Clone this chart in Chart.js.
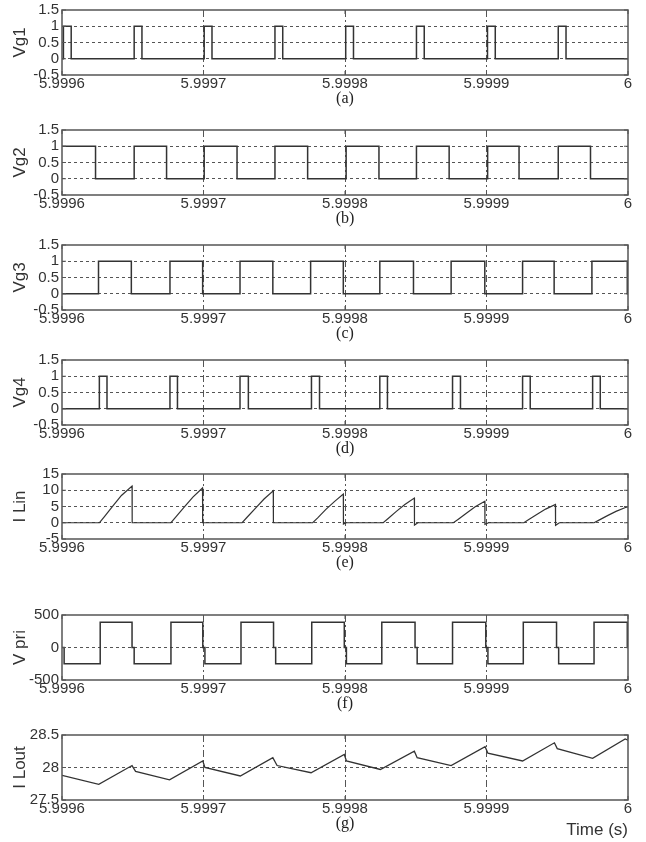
<!DOCTYPE html>
<html>
<head>
<meta charset="utf-8">
<script src="https://cdn.jsdelivr.net/npm/chart.js@4.4.1/dist/chart.umd.min.js"></script>
<style>
  html, body { margin: 0; padding: 0; background: #fff; }
  body { width: 646px; height: 842px; position: relative; overflow: hidden; }
  canvas { position: absolute; left: 0; }
  #timeLabel { position: absolute; right: 18px; top: 820px; font: 17px "Liberation Sans", Arial, sans-serif; color: #333; }
</style>
</head>
<body>
<canvas id="pa" width="646" height="111"></canvas>
<canvas id="pb" width="646" height="111"></canvas>
<canvas id="pc" width="646" height="111"></canvas>
<canvas id="pd" width="646" height="111"></canvas>
<canvas id="pe" width="646" height="111"></canvas>
<canvas id="pf" width="646" height="111"></canvas>
<canvas id="pg" width="646" height="111"></canvas>
<div id="timeLabel">Time (s)</div>
<script>
// time axis: microseconds after 5.9996 s
const xTickLabels = ['5.9996', '5.9997', '5.9998', '5.9999', '6'];

// gate signals (value holds until next time)
const vg1Time = [0, 1, 6.5, 51, 56.5, 100.5, 106, 150.5, 156, 200.5, 206, 250.5, 256, 300.7, 306.2, 350.7, 356.2, 400];
const vg1Val  = [0, 1, 0, 1, 0, 1, 0, 1, 0, 1, 0, 1, 0, 1, 0, 1, 0, 0];

const vg2Time = [0, 23.7, 51, 73.9, 100.5, 123.7, 150.5, 173.6, 200.8, 224, 250.5, 273.6, 300.8, 323, 350.7, 373.5, 400];
const vg2Val  = [1, 0, 1, 0, 1, 0, 1, 0, 1, 0, 1, 0, 1, 0, 1, 0, 0];

const vg3Time = [0, 25.8, 49, 76.3, 99.4, 125.8, 149, 175.7, 198.8, 224.6, 248.4, 275, 298.8, 325.5, 347.8, 374.5, 399.5, 400];
const vg3Val  = [0, 1, 0, 1, 0, 1, 0, 1, 0, 1, 0, 1, 0, 1, 0, 1, 0, 0];

const vg4Time = [0, 26.4, 31.8, 76.3, 81.6, 125.8, 131.7, 176.3, 182, 224.6, 230, 276, 281.6, 325.5, 330.9, 375, 380.4, 400];
const vg4Val  = [0, 1, 0, 1, 0, 1, 0, 1, 0, 1, 0, 1, 0, 1, 0, 1, 0, 0];

// primary voltage (stepped)
const vpriTime = [0, 1.5, 27, 49.5, 51, 77, 99.5, 101, 126.5, 149.5, 151, 176.5, 199.5, 201, 226, 249.5, 251, 276, 299.5, 301, 326, 349.5, 351, 376, 399.5, 400];
const vpriVal  = [0, -250, 390, 0, -250, 390, 0, -250, 390, 0, -250, 390, 0, -250, 390, 0, -250, 390, 0, -250, 390, 0, -250, 390, 0, 0];

// input inductor current
const ilinTime = [0, 26.5, 30, 36, 42, 49.5, 49.6,
  77, 80.5, 86.5, 92.5, 99.3, 99.4,
  127.3, 130.8, 136.8, 142.8, 149.3, 149.4,
  177.2, 180.7, 186.5, 192.5, 198.8, 198.9, 201,
  227, 230.5, 236.3, 242.3, 249, 249.1, 251.5,
  276.6, 280.1, 286, 292, 298.8, 298.9, 301.5,
  326.4, 329.9, 335.8, 341.8, 348.7, 348.8, 351.5,
  376, 379.5, 385.5, 391.5, 398.2, 400];
const ilinVal = [0, 0, 1.9, 5.2, 8.4, 11.3, 0,
  0, 1.8, 4.9, 7.9, 10.7, 0,
  0, 1.7, 4.5, 7.3, 9.8, 0,
  0, 1.5, 4.1, 6.5, 8.8, -0.4, 0,
  0, 1.3, 3.5, 5.6, 7.6, -0.7, 0,
  0, 1.1, 3.0, 4.9, 6.6, -0.5, 0,
  0, 1.0, 2.6, 4.2, 5.6, -0.8, 0,
  0, 0.8, 2.2, 3.5, 4.7, 4.9];

// output inductor current
const iloutTime = [0, 26, 49.5, 52, 76, 99.5, 101, 126, 149, 152, 176, 199.5, 201, 225, 249, 251, 275, 299, 301, 325.5, 348, 350, 375, 398, 400];
const iloutVal  = [27.88, 27.74, 28.03, 27.94, 27.81, 28.1, 28.0, 27.87, 28.15, 28.03, 27.92, 28.2, 28.1, 27.97, 28.25, 28.15, 28.03, 28.32, 28.22, 28.1, 28.38, 28.29, 28.14, 28.44, 28.42];

// top of each plot box (px)
const boxTops = [8, 128, 243, 358, 472, 613, 733];
const boxHeight = 67;
const lineColor = '#333';
const tickFont = { family: '"Liberation Sans", Arial, sans-serif', size: 15 };

function toPoints(t, v) {
  return t.map((x, i) => ({ x: x, y: v[i] }));
}

// full box around the plot area + small inside tick marks
const framePlugin = {
  id: 'frame',
  afterDraw(chart) {
    const { ctx, chartArea: a, scales } = chart;
    ctx.save();
    ctx.strokeStyle = '#555';
    ctx.lineWidth = 1.5;
    ctx.strokeRect(a.left, a.top, a.right - a.left, a.bottom - a.top);
    ctx.lineWidth = 1;
    ctx.beginPath();
    scales.x.ticks.forEach(t => {
      const px = scales.x.getPixelForValue(t.value);
      ctx.moveTo(px, a.bottom); ctx.lineTo(px, a.bottom - 4);
      ctx.moveTo(px, a.top); ctx.lineTo(px, a.top + 4);
    });
    scales.y.ticks.forEach(t => {
      const py = scales.y.getPixelForValue(t.value);
      ctx.moveTo(a.left, py); ctx.lineTo(a.left + 4, py);
      ctx.moveTo(a.right, py); ctx.lineTo(a.right - 4, py);
    });
    ctx.stroke();
    ctx.restore();
  }
};

// no grid line on the box edges
function hideEdges(c) {
  const s = c.scale;
  if (!c.tick) return '#555';
  const v = c.tick.value;
  return (Math.abs(v - s.min) < 1e-9 || Math.abs(v - s.max) < 1e-9) ? 'rgba(0,0,0,0)' : '#555';
}

function makePanel(id, idx, yTitle, caption, yMin, yMax, yStep, points, stepped, width) {
  const el = document.getElementById(id);
  el.style.top = (boxTops[idx] - 10) + 'px';
  el.height = 10 + boxHeight + 34;
  new Chart(el, {
    type: 'line',
    data: {
      datasets: [{
        data: points,
        borderColor: lineColor,
        borderWidth: width,
        pointRadius: 0,
        fill: false,
        stepped: stepped ? 'before' : false,
        tension: 0
      }]
    },
    options: {
      responsive: false,
      animation: false,
      events: [],
      layout: { padding: { top: 10, right: 18, left: 0, bottom: 0 } },
      plugins: { legend: { display: false }, tooltip: { enabled: false } },
      scales: {
        x: {
          type: 'linear',
          min: 0,
          max: 400,
          afterFit: s => { s.height = 34; },
          ticks: {
            stepSize: 100,
            autoSkip: false,
            maxRotation: 0,
            padding: 0,
            color: '#333',
            font: tickFont,
            callback: (v, i) => xTickLabels[i]
          },
          grid: { color: hideEdges, drawTicks: false, lineWidth: 1 },
          border: { display: false, dash: [7, 3, 2, 3] },
          title: {
            display: true,
            text: caption,
            color: '#222',
            font: { family: '"Liberation Serif", "Times New Roman", serif', size: 16 },
            padding: { top: 0, bottom: 0.4 }
          }
        },
        y: {
          min: yMin,
          max: yMax,
          afterFit: s => { s.width = 62; },
          ticks: {
            stepSize: yStep,
            autoSkip: false,
            padding: 3,
            color: '#333',
            font: tickFont,
            callback: v => String(Number(v.toFixed(2)))
          },
          grid: { color: hideEdges, drawTicks: false, lineWidth: 1 },
          border: { display: false, dash: [3, 3] },
          title: {
            display: true,
            text: yTitle,
            color: '#333',
            font: { family: '"Liberation Sans", Arial, sans-serif', size: 17 },
            padding: { top: 10, bottom: 0 }
          }
        }
      }
    },
    plugins: [framePlugin]
  });
}

makePanel('pa', 0, 'Vg1', '(a)', -0.5, 1.5, 0.5, toPoints(vg1Time, vg1Val), true, 1.5);
makePanel('pb', 1, 'Vg2', '(b)', -0.5, 1.5, 0.5, toPoints(vg2Time, vg2Val), true, 1.5);
makePanel('pc', 2, 'Vg3', '(c)', -0.5, 1.5, 0.5, toPoints(vg3Time, vg3Val), true, 1.5);
makePanel('pd', 3, 'Vg4', '(d)', -0.5, 1.5, 0.5, toPoints(vg4Time, vg4Val), true, 1.5);
makePanel('pe', 4, 'I Lin', '(e)', -5, 15, 5, toPoints(ilinTime, ilinVal), false, 1.2);
makePanel('pf', 5, 'V pri', '(f)', -500, 500, 500, toPoints(vpriTime, vpriVal), true, 1.5);
makePanel('pg', 6, 'I Lout', '(g)', 27.5, 28.5, 0.5, toPoints(iloutTime, iloutVal), false, 1.3);
</script>
</body>
</html>
